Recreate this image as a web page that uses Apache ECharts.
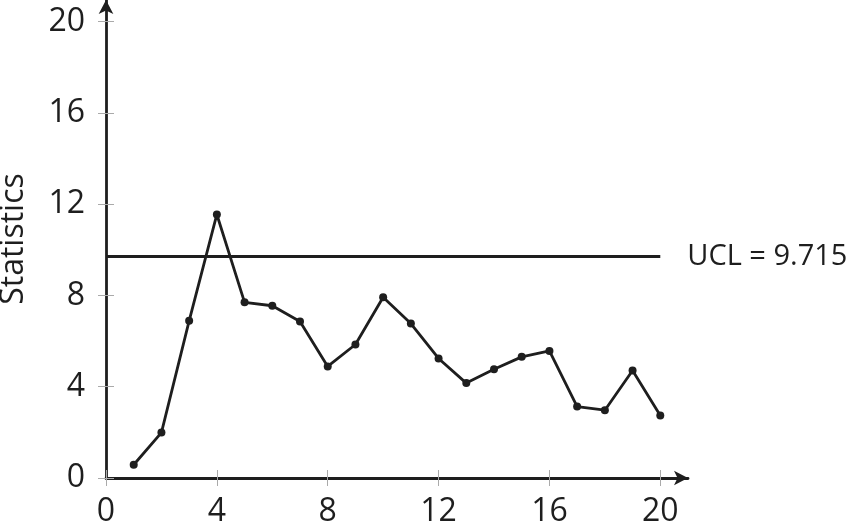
<!DOCTYPE html>
<html>
<head>
<meta charset="utf-8">
<script src="https://cdn.jsdelivr.net/npm/echarts@6/dist/echarts.min.js"></script>
<style>html,body{margin:0;padding:0;background:#fff;}#c{width:850px;height:522px;}</style>
</head>
<body>
<div id="c"></div>
<script>
const samples = [1,2,3,4,5,6,7,8,9,10,11,12,13,14,15,16,17,18,19,20];
const statistics = [0.58,1.99,6.89,11.55,7.70,7.55,6.86,4.89,5.85,7.92,6.77,5.24,4.16,4.77,5.31,5.57,3.13,2.97,4.71,2.74];
const xTicks = [0,4,8,12,16,20];
const yTicks = [0,4,8,12,16,20];
const uclValue = 9.715;
const uclLabel = 'UCL = 9.715';
const yTitle = 'Statistics';

const FONT = 'Open Sans';
const INK = '#1e1e1e';
const TICK = '#aaa';

const chart = echarts.init(document.getElementById('c'), null, {renderer:'canvas'});
chart.setOption({
  animation:false,
  backgroundColor:'#fff',
  grid:{left:106, right:162, top:0, bottom:44, containLabel:false, outerBoundsMode:'none'},
  xAxis:[{
    type:'value', min:0, max:21, position:'bottom',
    axisLine:{show:true, symbol:['none','arrow'], symbolSize:[11,14], lineStyle:{color:INK, width:2.8}},
    axisTick:{show:true, inside:false, length:8, customValues:xTicks, lineStyle:{color:TICK, width:1}},
    axisLabel:{show:true, customValues:xTicks, margin:18, fontFamily:FONT, fontSize:32, color:INK},
    splitLine:{show:false}
  },{
    type:'value', min:0, max:21, position:'bottom',
    axisLine:{show:false},
    axisTick:{show:true, inside:true, length:8, customValues:xTicks, lineStyle:{color:TICK, width:1}},
    axisLabel:{show:false},
    splitLine:{show:false}
  }],
  yAxis:[{
    type:'value', min:0, max:20.95, position:'left',
    name:yTitle, nameLocation:'middle', nameGap:76, nameRotate:90,
    nameTextStyle:{fontFamily:FONT, fontSize:32, color:INK},
    axisLine:{show:true, symbol:['none','arrow'], symbolSize:[11,14], lineStyle:{color:INK, width:2.8}},
    axisTick:{show:true, inside:false, length:8, customValues:yTicks, lineStyle:{color:TICK, width:1}},
    axisLabel:{show:true, customValues:yTicks, margin:21, fontFamily:FONT, fontSize:32, color:INK},
    splitLine:{show:false}
  },{
    type:'value', min:0, max:20.95, position:'left',
    axisLine:{show:false},
    axisTick:{show:true, inside:true, length:8, customValues:yTicks, lineStyle:{color:TICK, width:1}},
    axisLabel:{show:false},
    splitLine:{show:false}
  }],
  series:[{
    type:'line',
    data:samples.map((x,i)=>[x, statistics[i]]),
    symbol:'circle', symbolSize:8,
    itemStyle:{color:INK},
    lineStyle:{color:INK, width:2.8},
    markLine:{
      silent:true, symbol:['none','none'],
      lineStyle:{color:INK, width:2.8, type:'solid'},
      label:{show:true, position:'end', distance:27, formatter:uclLabel, fontFamily:FONT, fontSize:29, color:INK},
      data:[[{coord:[xTicks[0], uclValue]},{coord:[xTicks[xTicks.length-1], uclValue]}]]
    }
  }]
});
</script>
</body>
</html>
